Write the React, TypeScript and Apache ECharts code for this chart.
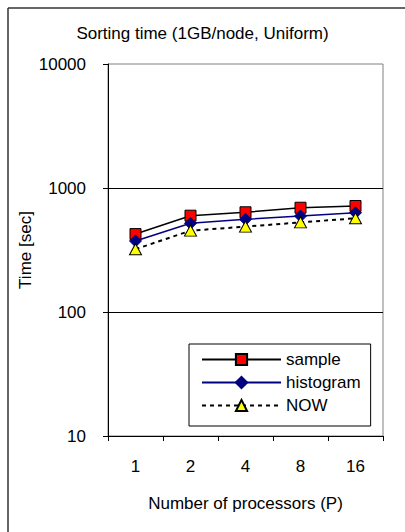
import React, { useEffect, useRef } from "react";
import * as echarts from "echarts";

const categories = ["1", "2", "4", "8", "16"];
const sampleValues = [425, 598, 637, 693, 716];
const histogramValues = [374, 519, 559, 594, 632];
const nowValues = [321, 453, 488, 528, 570];
const yTicks = [10, 100, 1000, 10000];

const FONT = "'Liberation Sans', Arial, sans-serif";
const FS = 17;

export default function App() {
  const ref = useRef<HTMLDivElement>(null);
  useEffect(() => {
    if (!ref.current) return;
    const chart = echarts.init(ref.current, undefined, { renderer: "svg" });
    chart.setOption({
      animation: false,
      backgroundColor: "#ffffff",
      textStyle: { fontFamily: FONT, color: "#000" },
      title: {
        text: "Sorting time (1GB/node, Uniform)",
        left: "center",
        top: 20,
        textStyle: { fontFamily: FONT, fontSize: FS, fontWeight: "normal", color: "#000" },
      },
      graphic: [
        { type: "line", shape: { x1: 8, y1: 8, x2: 405, y2: 8 }, style: { stroke: "#333", lineWidth: 1.5 } },
        { type: "line", shape: { x1: 8, y1: 8, x2: 8, y2: 532 }, style: { stroke: "#333", lineWidth: 1.5 } },
      ],
      grid: {
        left: 108,
        right: 22,
        top: 64,
        bottom: 96,
        show: true,
        borderColor: "#808080",
        borderWidth: 1,
        backgroundColor: "transparent",
      },
      legend: {
        orient: "vertical",
        left: 189,
        top: 344,
        width: 185,
        padding: [7, 10, 12, 12],
        itemWidth: 79,
        itemHeight: 14,
        itemGap: 6,
        borderColor: "#000",
        borderWidth: 1,
        backgroundColor: "#fff",
        textStyle: { fontFamily: FONT, fontSize: FS, color: "#000" },
        data: ["sample", "histogram", "NOW"],
      },
      xAxis: {
        type: "category",
        data: categories,
        boundaryGap: true,
        name: "Number of processors (P)",
        nameLocation: "middle",
        nameGap: 59,
        nameMoveOverlap: false,
        nameTextStyle: { fontFamily: FONT, fontSize: FS, color: "#000" },
        axisLine: { lineStyle: { color: "#000", width: 1 } },
        axisTick: { show: true, length: 5, lineStyle: { color: "#000" } },
        axisLabel: { margin: 22, fontFamily: FONT, fontSize: FS, color: "#000" },
        splitLine: { show: false },
      },
      yAxis: {
        type: "log",
        logBase: 10,
        min: yTicks[0],
        max: yTicks[yTicks.length - 1],
        name: "Time [sec]",
        nameLocation: "middle",
        nameGap: 74,
        nameMoveOverlap: false,
        nameRotate: 90,
        nameTextStyle: { fontFamily: FONT, fontSize: FS, color: "#000" },
        axisLine: { show: true, lineStyle: { color: "#000", width: 1 } },
        axisTick: { show: true, length: 5, lineStyle: { color: "#000" } },
        axisLabel: { margin: 22, fontFamily: FONT, fontSize: FS, color: "#000", formatter: (v: number) => String(Math.round(v)) },
        splitLine: { show: true, showMaxLine: false, lineStyle: { color: "#000", width: 1 } },
        minorTick: { show: false },
      },
      series: [
        {
          name: "sample",
          type: "line",
          data: sampleValues,
          symbol: "rect",
          symbolSize: 11,
          lineStyle: { color: "#000", width: 1.5 },
          itemStyle: { color: "#ff0000", borderColor: "#000", borderWidth: 1 },
          z: 3,
        },
        {
          name: "histogram",
          type: "line",
          data: histogramValues,
          symbol: "diamond",
          symbolSize: 12,
          lineStyle: { color: "#000080", width: 1.5 },
          itemStyle: { color: "#000080", borderColor: "#000080", borderWidth: 1 },
          z: 4,
        },
        {
          name: "NOW",
          type: "line",
          data: nowValues,
          symbol: "triangle",
          symbolSize: [12, 11],
          lineStyle: { color: "#000", width: 2, type: [4, 4] },
          itemStyle: { color: "#ffff00", borderColor: "#000", borderWidth: 1 },
          z: 5,
        },
      ],
    });
    return () => chart.dispose();
  }, []);
  return (
    <div
      ref={ref}
      style={{ position: "absolute", left: 0, top: 0, width: 405, height: 532 }}
    />
  );
}
